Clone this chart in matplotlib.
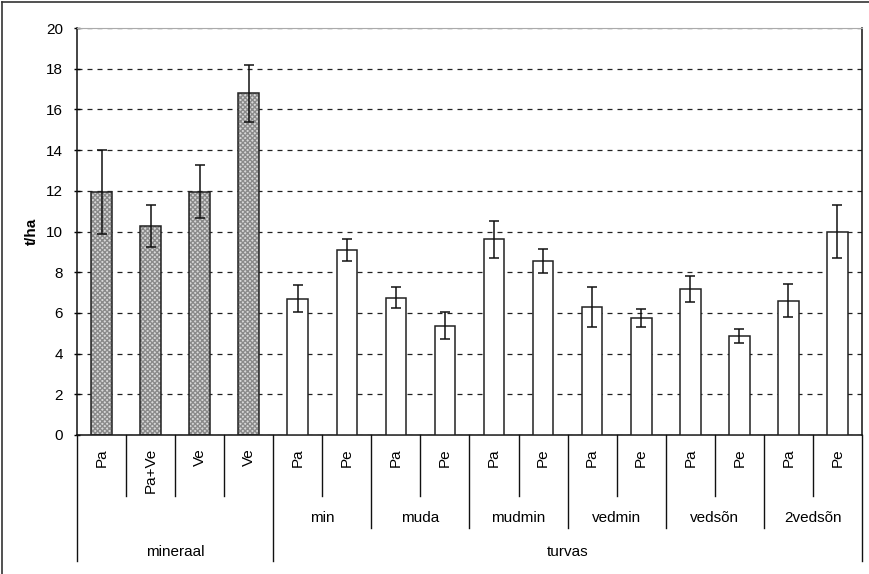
import matplotlib.pyplot as plt
from matplotlib.lines import Line2D
import numpy as np

plt.rcParams['font.family'] = ['Liberation Sans', 'DejaVu Sans']

# saagikus t/ha, keskmine ja standardviga
sordid = ["Pa", "Pa+Ve", "Ve", "Ve",
          "Pa", "Pe", "Pa", "Pe", "Pa", "Pe", "Pa", "Pe", "Pa", "Pe", "Pa", "Pe"]
alarühmad = ["min", "muda", "mudmin", "vedmin", "vedsõn", "2vedsõn"]
mullad = ["mineraal", "turvas"]
saak = [11.95, 10.27, 11.95, 16.8,
        6.7, 9.1, 6.75, 5.37, 9.62, 8.57, 6.29, 5.76, 7.16, 4.86, 6.6, 9.98]
viga = [2.05, 1.03, 1.3, 1.4,
        0.65, 0.54, 0.51, 0.65, 0.92, 0.59, 0.97, 0.43, 0.63, 0.33, 0.81, 1.3]

n_min = 4
x = np.arange(len(sordid))
fs = 11

fig = plt.figure(figsize=(8.7, 5.74), dpi=100)
ax = fig.add_axes([77/870, 1-435/574, 785/870, 407/574])

# mineraalmuld täpilise mustriga, turvas valge
ax.bar(x[:n_min], saak[:n_min], width=0.42, color="#d8d8d8", edgecolor="#8a8a8a",
       hatch="xxxxxxx", linewidth=0, zorder=2)
ax.bar(x[:n_min], saak[:n_min], width=0.42, fill=False, edgecolor="#222222",
       linewidth=1.1, zorder=3)
ax.bar(x[n_min:], saak[n_min:], width=0.42, color="white", edgecolor="#222222",
       linewidth=1.1, zorder=3)
ax.errorbar(x, saak, yerr=viga, fmt="none", ecolor="#111111", elinewidth=1.1,
            capsize=3.8, capthick=1.1, zorder=4)

ax.set_xlim(-0.5, len(sordid) - 0.5)
ax.set_ylim(0, 20)
ax.set_yticks(range(0, 21, 2))
ax.tick_params(axis="y", labelsize=fs, length=4.5, width=1, direction="inout", pad=8)
ax.set_xticks([])
ax.yaxis.grid(True, linestyle=(0, (4, 4)), color="#222222", linewidth=0.9)
ax.set_axisbelow(True)
ax.spines["top"].set_color("#aaaaaa")
for s in ["left", "right", "bottom"]:
    ax.spines[s].set_color("#111111")
    ax.spines[s].set_linewidth(1.1)

ax.set_ylabel("t/ha", fontsize=fs, fontweight="bold", labelpad=5)

# mitmetasandilised x-telje sildid
trans = ax.get_xaxis_transform()
y1, y2, y3 = -0.150, -0.2285, -0.3096

def eraldaja(xpos, alumine):
    ax.add_line(Line2D([xpos, xpos], [0, alumine], transform=trans,
                       color="#111111", linewidth=1, clip_on=False))

for i, s in enumerate(sordid):
    ax.text(i, -0.032, s, transform=trans, rotation=90, ha="center", va="top",
            fontsize=fs)

for i in range(1, len(sordid)):
    if i == n_min:
        eraldaja(i - 0.5, y3)
    elif i > n_min and (i - n_min) % 2 == 0:
        eraldaja(i - 0.5, y2)
    else:
        eraldaja(i - 0.5, y1)
eraldaja(-0.5, y3)
eraldaja(len(sordid) - 0.5, y3)

for j, nimi in enumerate(alarühmad):
    ax.text(n_min + 2*j + 0.5, -0.204, nimi, transform=trans, ha="center",
            va="center", fontsize=fs)

ax.text((n_min - 1) / 2, -0.2875, mullad[0], transform=trans, ha="center",
        va="center", fontsize=fs)
ax.text((n_min + len(sordid) - 1) / 2, -0.2875, mullad[1], transform=trans,
        ha="center", va="center", fontsize=fs)

# joonise raam
fig.add_artist(Line2D([2/870, 2/870], [0, 1 - 2/574], color="#333333", linewidth=1.2))
fig.add_artist(Line2D([2/870, 1], [1 - 2/574, 1 - 2/574], color="#333333", linewidth=1.2))

fig.savefig("out.png", dpi=100)
